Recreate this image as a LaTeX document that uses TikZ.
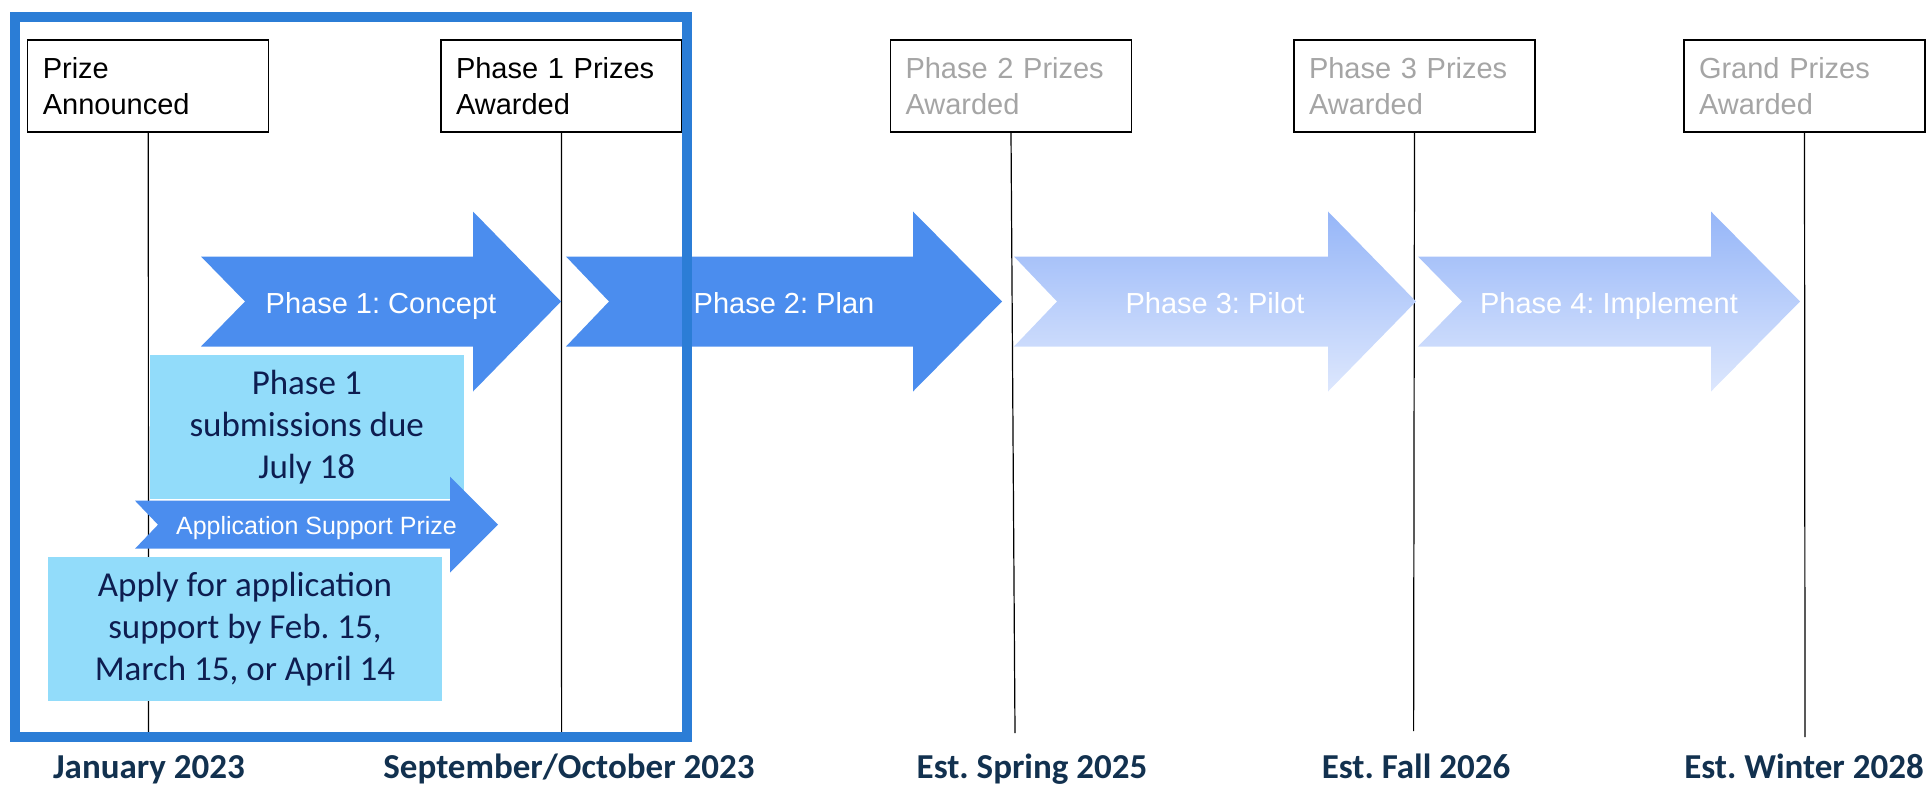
\documentclass[tikz,border=0pt]{standalone}
\usepackage{fontspec}
\setmainfont{Liberation Sans}
\newfontfamily\calfont{Carlito}
\frenchspacing
\definecolor{framecol}{HTML}{2B7DD6}
\definecolor{arrowcol}{HTML}{4B8DEE}
\definecolor{fadetop}{HTML}{96B6F8}
\definecolor{fadebot}{HTML}{DDE7FD}
\definecolor{notecol}{HTML}{92DCFA}
\definecolor{notetext}{HTML}{0E1D50}
\definecolor{datecol}{HTML}{12314F}
\definecolor{greytext}{HTML}{A5A5A5}
% #1 style, #2 tail x, #3 notch x, #4 head base x, #5 tip x, #6 centre y, #7 body half height, #8 head half height
\newcommand\phasearrow[8]{%
  \path[#1] (#2,#6-#7) -- (#4,#6-#7) -- (#4,#6-#8) -- (#5,#6) -- (#4,#6+#8)
    -- (#4,#6+#7) -- (#2,#6+#7) -- (#3,#6) -- cycle;}
\begin{document}
\frenchspacing
\begin{tikzpicture}[x=0.5pt,y=-0.5pt,
  hdrbox/.style={draw=black, line width=0.6pt, fill=white, minimum width=120.5pt,
    minimum height=46pt, text width=105.5pt, inner xsep=7.5pt, inner ysep=0pt,
    align=left, font=\fontsize{14.5pt}{18pt}\selectfont},
  greyhdr/.style={hdrbox, text=greytext},
  vline/.style={draw=black, line width=0.6pt},
  notebox/.style={fill=notecol, text=notetext, align=center, inner sep=0pt,
    font=\calfont\fontsize{17.5pt}{21pt}\selectfont},
  phtext/.style={text=white, inner sep=0pt, font=\fontsize{14.5pt}{18pt}\selectfont},
  smalltext/.style={text=white, inner sep=0pt, font=\fontsize{12.5pt}{15pt}\selectfont},
  datelabel/.style={text=datecol, inner sep=0pt, anchor=base,
    font=\calfont\bfseries\fontsize{17.5pt}{20pt}\selectfont}]
\useasboundingbox (0,0) rectangle (1927,787);

% milestone boxes
\node[hdrbox] (b1) at (148.3,86) {Prize\\Announced};
\node[hdrbox] (b2) at (561.5,86) {Phase 1 Prizes\\Awarded};
\node[greyhdr] (b3) at (1011,86) {Phase 2 Prizes\\Awarded};
\node[greyhdr] (b4) at (1414.5,86) {Phase 3 Prizes\\Awarded};
\node[greyhdr] (b5) at (1804.5,86) {Grand Prizes\\Awarded};

% timeline lines
\coordinate (e1) at (148.5,732);
\coordinate (e2) at (561.6,732);
\coordinate (e3) at (1015,733);
\coordinate (e4) at (1413.6,731);
\coordinate (e5) at (1805,737);
\draw[vline] (b1.south) -- (e1);
\draw[vline] (b2.south) -- (e2);
\draw[vline] (b3.south) -- (e3);
\draw[vline] (b4.south) -- (e4);
\draw[vline] (b5.south) -- (e5);

% phase arrows
\phasearrow{fill=arrowcol}{201}{245}{473}{561}{301.5}{45}{90}
\phasearrow{fill=arrowcol}{566}{609}{913}{1002}{301.5}{45}{90}
\phasearrow{top color=fadetop,bottom color=fadebot}{1014}{1057}{1328}{1416}{301.5}{45}{90}
\phasearrow{top color=fadetop,bottom color=fadebot}{1418}{1462}{1711}{1800}{301.5}{45}{90}
\node[phtext, anchor=base] (t1) at (381,313) {Phase 1: Concept};
\node[phtext, anchor=base] (t2) at (784,313) {Phase 2: Plan};
\node[phtext, anchor=base] (t3) at (1215,313) {Phase 3: Pilot};
\node[phtext, anchor=base] (t4) at (1609,313) {Phase 4: Implement};

% notes
\node[notebox, minimum width=157.25pt, minimum height=72pt] (nA) at (306.75,427)
  {Phase 1\\submissions due\\July 18};
\phasearrow{fill=arrowcol}{135}{158}{450}{498}{524.7}{24}{48}
\node[smalltext, anchor=base] (t5) at (316.5,534) {Application Support Prize};
\node[notebox, minimum width=197pt, minimum height=71.85pt] (nB) at (245,628.85)
  {Apply for application\\support by Feb. 15,\\March 15, or April 14};

% highlight frame
\draw[framecol, line width=5pt] (15,17) rectangle (687,737);

% dates
\node[datelabel] (d1) at (149,778) {January 2023};
\node[datelabel] (d2) at (569,778) {September/October 2023};
\node[datelabel] (d3) at (1032,778) {Est. Spring 2025};
\node[datelabel] (d4) at (1416,778) {Est. Fall 2026};
\node[datelabel] (d5) at (1804,778) {Est. Winter 2028};
\end{tikzpicture}
\end{document}
